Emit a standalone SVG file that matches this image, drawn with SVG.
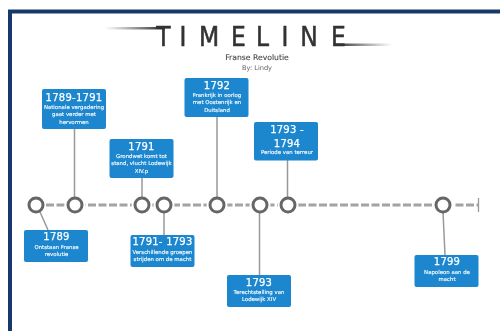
<svg xmlns="http://www.w3.org/2000/svg" width="500" height="331" viewBox="0 0 500 331">
<defs>
<linearGradient id="gl" x1="0" x2="1" y1="0" y2="0"><stop offset="0" stop-color="#444" stop-opacity="0"/><stop offset="1" stop-color="#222"/></linearGradient>
<linearGradient id="gr" x1="0" x2="1" y1="0" y2="0"><stop offset="0" stop-color="#222"/><stop offset="1" stop-color="#444" stop-opacity="0"/></linearGradient>
<filter id="soft" x="-5%" y="-5%" width="110%" height="110%"><feGaussianBlur stdDeviation="0.45"/></filter>
</defs>
<style>
text{font-family:"DejaVu Sans",Verdana,sans-serif;text-anchor:middle}
.box{fill:#1b87cf}
.yr{fill:#fff;font-size:10px;letter-spacing:.25px;stroke:#fff;stroke-width:.25}
.ds{fill:#fff;font-size:5.4px;stroke:#fff;stroke-width:.12}
.st{stroke:#999;stroke-width:1.5;fill:none}
.dot{fill:#fff;stroke:#666;stroke-width:3}
.ti{fill:#333;font-size:26px;font-stretch:condensed;stroke:#333;stroke-width:.5}
</style>
<rect width="500" height="331" fill="#fff"/>
<path d="M8 331V9.500H500V13.500H12V331Z" fill="#17386b"/>
<g filter="url(#soft)">
<g id="title">
<rect x="105" y="27" width="60" height="2.500" fill="url(#gl)"/>
<rect x="334" y="43.500" width="58" height="2.500" fill="url(#gr)"/>
<text class="ti" x="163.500" y="46">T</text><text class="ti" x="183" y="46">I</text><text class="ti" x="209" y="46">M</text><text class="ti" x="238.500" y="46">E</text><text class="ti" x="262.500" y="46">L</text><text class="ti" x="285" y="46">I</text><text class="ti" x="309" y="46">N</text><text class="ti" x="338.500" y="46">E</text>
<text x="257" y="59.500" font-size="7.700" fill="#444" stroke="#444" stroke-width=".1">Franse Revolutie</text>
<text x="257" y="70" font-size="6.600" fill="#666">By: Lindy</text>
</g>
<g id="connectors">
<path d="M46 205H478" stroke="#a3a3a3" stroke-width="2.800" stroke-dasharray="8 2.500" fill="none"/>
<g fill="#fff"><circle cx="75" cy="205" r="10.500"/><circle cx="142" cy="205" r="10.500"/><circle cx="164" cy="205" r="10.500"/><circle cx="217" cy="205" r="10.500"/><circle cx="260" cy="205" r="10.500"/><circle cx="288" cy="205" r="10.500"/><circle cx="443" cy="205" r="10.500"/></g>
<path d="M478.500 198V212" stroke="#999" stroke-width="1.300"/>
<path class="st" d="M40 212L48 230M74.500 129V198M142 178V198M164 212V235M217 117V198M259.500 212V275M287.500 160V198M443 212L445 255"/>
</g>
<g id="n1789"><circle class="dot" cx="36" cy="205" r="7"/><rect class="box" x="24" y="230" width="64" height="32" rx="2"/><text class="yr" x="56.500" y="240">1789</text><text class="ds" x="56.500" y="248.500">Ontstaan Franse</text><text class="ds" x="56.500" y="256">revolutie</text></g>
<g id="n1789-1791"><circle class="dot" cx="75" cy="205" r="7"/><rect class="box" x="42" y="89" width="64" height="40" rx="2"/><text class="yr" x="74" y="100.500">1789-1791</text><text class="ds" x="74" y="108.500">Nationale vergadering</text><text class="ds" x="74" y="116">gaat verder met</text><text class="ds" x="74" y="123.500">hervormen</text></g>
<g id="n1791"><circle class="dot" cx="142" cy="205" r="7"/><rect class="box" x="109.500" y="139" width="64" height="39" rx="2"/><text class="yr" x="141.500" y="150">1791</text><text class="ds" x="141.500" y="157.500">Grondwet komt tot</text><text class="ds" x="141.500" y="165">stand, vlucht Lodewijk</text><text class="ds" x="141.500" y="172.500">XIV.p</text></g>
<g id="n1791-1793"><circle class="dot" cx="164" cy="205" r="7"/><rect class="box" x="130.500" y="235" width="64" height="32" rx="2"/><text class="yr" x="162.500" y="245">1791- 1793</text><text class="ds" x="162.500" y="253.500">Verschillende groepen</text><text class="ds" x="162.500" y="261">strijden om de macht</text></g>
<g id="n1792"><circle class="dot" cx="217" cy="205" r="7"/><rect class="box" x="184.500" y="78" width="64" height="39" rx="2"/><text class="yr" x="217" y="88.500">1792</text><text class="ds" x="217" y="96.500">Frankrijk in oorlog</text><text class="ds" x="217" y="104">met Oostenrijk en</text><text class="ds" x="217" y="111.500">Duitsland</text></g>
<g id="n1793"><circle class="dot" cx="260" cy="205" r="7"/><rect class="box" x="227" y="275" width="64" height="32" rx="2"/><text class="yr" x="259" y="285.500">1793</text><text class="ds" x="259" y="293.500">Terechtstelling van</text><text class="ds" x="259" y="301">Lodewijk XIV</text></g>
<g id="n1793-1794"><circle class="dot" cx="288" cy="205" r="7"/><rect class="box" x="254" y="122" width="64" height="38.500" rx="2"/><text class="yr" x="287" y="132.500">1793 -</text><text class="yr" x="287" y="146.500">1794</text><text class="ds" x="287" y="154">Periode van terreur</text></g>
<g id="n1799"><circle class="dot" cx="443" cy="205" r="7"/><rect class="box" x="414.500" y="255" width="64" height="32" rx="2"/><text class="yr" x="447" y="265">1799</text><text class="ds" x="447" y="273.500">Napoleon aan de</text><text class="ds" x="447" y="281">macht</text></g>
</g>
</svg>
